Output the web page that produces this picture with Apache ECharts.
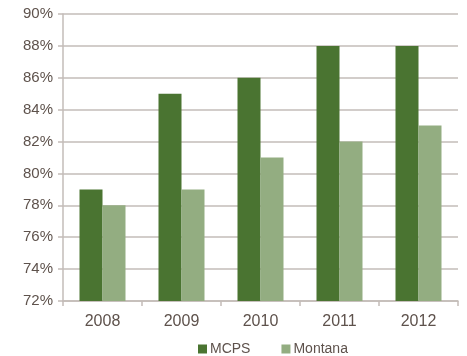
<!DOCTYPE html>
<html>
<head>
<meta charset="utf-8">
<script src="https://cdn.jsdelivr.net/npm/echarts@6/dist/echarts.min.js"></script>
<style>
  html, body { margin: 0; padding: 0; background: #fff; }
  #chart { width: 467px; height: 356px; }
</style>
</head>
<body>
<div id="chart"></div>
<script>
// Graduation rates by year
const years = ['2008', '2009', '2010', '2011', '2012'];
const mcps = [79, 85, 86, 88, 88];
const montana = [78, 79, 81, 82, 83];

const textColor = '#5e524c';
const lineColor = '#c3bcb8';
const fontFamily = 'Liberation Sans, Arial, sans-serif';

const chart = echarts.init(document.getElementById('chart'), null, { renderer: 'canvas' });
chart.setOption({
  animation: false,
  grid: { left: 63, right: 9, top: 14, bottom: 55, containLabel: false },
  legend: {
    top: 342,
    left: 198,
    padding: 0,
    itemWidth: 9,
    itemHeight: 9,
    itemGap: 31,
    icon: 'rect',
    textStyle: { color: textColor, fontSize: 14, fontFamily: fontFamily, padding: [0, 0, 0, -2] },
    data: ['MCPS', 'Montana']
  },
  xAxis: {
    type: 'category',
    data: years,
    axisLine: { lineStyle: { color: lineColor, width: 1.5 } },
    axisTick: { show: true, length: 5, lineStyle: { color: lineColor, width: 1.5 } },
    axisLabel: { color: textColor, fontSize: 16, fontFamily: fontFamily, margin: 13 }
  },
  yAxis: {
    type: 'value',
    min: 72,
    max: 90,
    interval: 2,
    axisLine: { show: true, lineStyle: { color: lineColor, width: 1.5 } },
    axisTick: { show: true, length: 5, lineStyle: { color: lineColor, width: 1.5 } },
    splitLine: { lineStyle: { color: lineColor, width: 1.5 } },
    axisLabel: { color: textColor, fontSize: 15, fontFamily: fontFamily, margin: 10, formatter: '{value}%' }
  },
  series: [
    {
      name: 'MCPS',
      type: 'bar',
      data: mcps,
      barWidth: 23,
      barGap: '0%',
      itemStyle: { color: '#4a7431' }
    },
    {
      name: 'Montana',
      type: 'bar',
      data: montana,
      barWidth: 23,
      barGap: '0%',
      itemStyle: { color: '#93ad81' }
    }
  ]
});
</script>
</body>
</html>
